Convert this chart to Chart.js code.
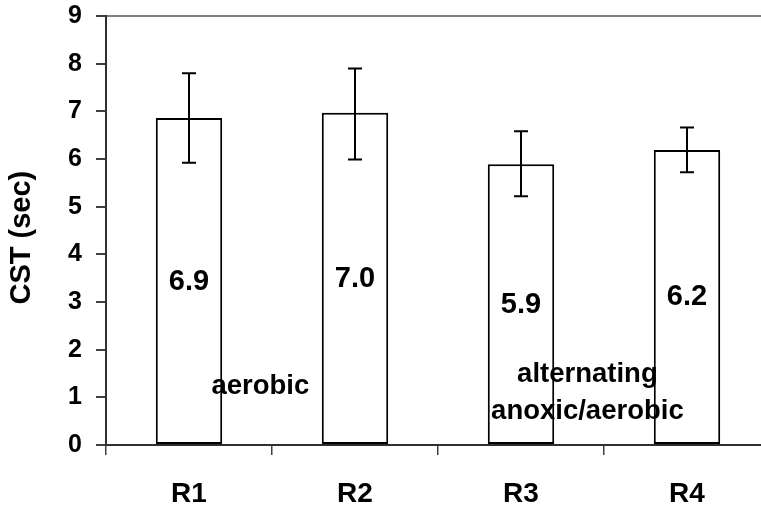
<!DOCTYPE html>
<html><head><meta charset="utf-8">
<script src="https://cdn.jsdelivr.net/npm/chart.js@4.4.1/dist/chart.umd.min.js"></script>
<style>html,body{margin:0;padding:0;overflow:hidden;background:#fff}#wrap{width:772px;height:506px}</style>
</head><body><div id="wrap"><canvas id="c" width="772" height="506"></canvas></div>
<script>
const categories = ['R1', 'R2', 'R3', 'R4'];
const cstMean = [6.86, 6.97, 5.89, 6.19];
const errHigh = [7.80, 7.90, 6.58, 6.66];
const errLow = [5.92, 5.99, 5.22, 5.72];
const valueLabels = ['6.9', '7.0', '5.9', '6.2'];
const groupNoteAerobic = ['aerobic'];
const groupNoteAlt = ['alternating', 'anoxic/aerobic'];
const yTitle = 'CST (sec)';
const yMin = 0, yMax = 9, yStep = 1;

const FONT = "'Liberation Sans', Arial, sans-serif";

const overlay = {
  id: 'overlay',
  afterDatasetsDraw(chart) {
    const ctx = chart.ctx, y = chart.scales.y, x = chart.scales.x;
    const meta = chart.getDatasetMeta(0);
    ctx.save();
    // error bars
    ctx.strokeStyle = '#000'; ctx.lineWidth = 2;
    meta.data.forEach((bar, i) => {
      const yh = y.getPixelForValue(errHigh[i]), yl = y.getPixelForValue(errLow[i]);
      ctx.beginPath();
      ctx.moveTo(bar.x, yh); ctx.lineTo(bar.x, yl);
      ctx.moveTo(bar.x - 7, yh); ctx.lineTo(bar.x + 7, yh);
      ctx.moveTo(bar.x - 7, yl); ctx.lineTo(bar.x + 7, yl);
      ctx.stroke();
    });
    // value labels at bar mid-height
    ctx.fillStyle = '#000';
    ctx.font = 'bold 29px ' + FONT;
    ctx.textAlign = 'center'; ctx.textBaseline = 'middle';
    meta.data.forEach((bar, i) => {
      ctx.fillText(valueLabels[i], bar.x, y.getPixelForValue(cstMean[i] / 2));
    });
    // group notes
    const step = x.getPixelForValue(1) - x.getPixelForValue(0);
    ctx.font = 'bold 27.5px ' + FONT;
    ctx.textBaseline = 'alphabetic';
    const ax = x.getPixelForValue(0) + 0.43 * step;
    groupNoteAerobic.forEach((t, k) => ctx.fillText(t, ax, y.getPixelForValue(1.08) + k * 37));
    const bx = x.getPixelForValue(2) + 0.4 * step;
    groupNoteAlt.forEach((t, k) => ctx.fillText(t, bx, y.getPixelForValue(1.33) + k * 37));
    // y axis title
    ctx.save();
    ctx.font = 'bold 29px ' + FONT;
    ctx.textBaseline = 'middle';
    ctx.translate(22, y.getPixelForValue(4.35));
    ctx.rotate(-Math.PI / 2);
    ctx.fillText(yTitle, 0, 0);
    ctx.restore();
    ctx.restore();
  }
};

new Chart(document.getElementById('c'), {
  type: 'bar',
  data: {
    labels: categories,
    datasets: [{
      data: cstMean,
      backgroundColor: '#ffffff',
      borderColor: '#000000',
      borderWidth: 2,
      borderSkipped: false,
      barPercentage: 0.4,
      categoryPercentage: 1.0
    }]
  },
  options: {
    responsive: false,
    devicePixelRatio: 1,
    animation: false,
    layout: { padding: { top: 16, left: 0, right: 2, bottom: 0 } },
    plugins: { legend: { display: false }, tooltip: { enabled: false } },
    scales: {
      x: {
        grid: { display: true, drawOnChartArea: false, drawTicks: true, tickLength: 10, color: '#404040', lineWidth: 1.5, offset: true },
        border: { display: true, color: '#303030', width: 2 },
        ticks: { color: '#000', font: { family: FONT, size: 28, weight: 'bold' }, padding: 22, maxRotation: 0 },
        afterFit(s) { s.height = 61; s.paddingLeft = 0; s.paddingRight = 0; }
      },
      y: {
        min: yMin, max: yMax,
        ticks: { stepSize: yStep, color: '#000', font: { family: FONT, size: 25, weight: 'bold' }, padding: 14 },
        grid: {
          drawTicks: true, tickLength: 10,
          color: c => (c.tick && c.tick.value === yMax) ? '#808080' : 'rgba(0,0,0,0)',
          lineWidth: 2,
          tickColor: '#404040'
        },
        border: { display: true, color: '#303030', width: 2 },
        title: { display: false },
        afterFit(s) { s.width = 106; s.paddingTop = 0; s.paddingBottom = 0; }
      }
    }
  },
  plugins: [overlay]
});
</script></body></html>
